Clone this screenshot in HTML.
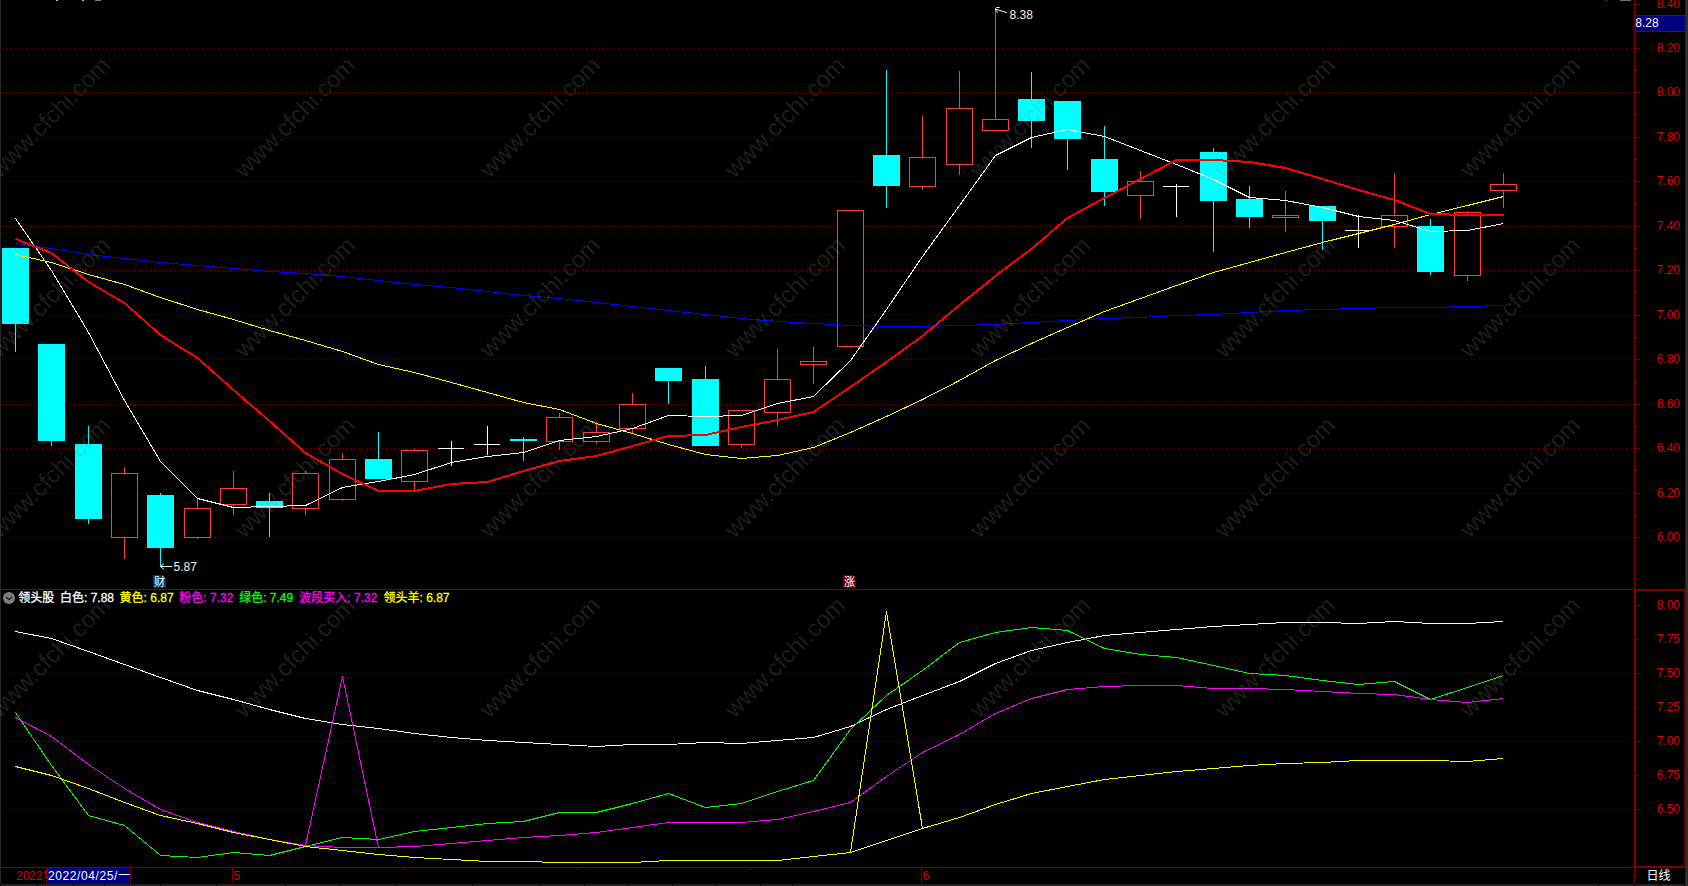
<!DOCTYPE html>
<html lang="zh-CN"><head><meta charset="utf-8"><title>K线图 - 领头股</title>
<style>
html,body{margin:0;padding:0;background:#000;overflow:hidden}
body{width:1688px;height:886px;position:relative;font-family:"Liberation Sans","Noto Sans CJK SC",sans-serif}
svg{position:absolute;left:0;top:0;display:block}
text{font-family:"Liberation Sans","Noto Sans CJK SC",sans-serif;font-size:12px}
.ax{fill:#dc0000}
.wm{fill:#8c8c8c;fill-opacity:.215;font-size:24px}
</style></head><body>
<svg width="1688" height="886" viewBox="0 0 1688 886">
<rect width="1688" height="886" fill="#000"/>
<g shape-rendering="crispEdges">
<rect x="0" y="0" width="1" height="884" fill="#272727"/>
<rect x="1685" y="0" width="1" height="886" fill="#262626"/>
<rect x="1686" y="0" width="2" height="886" fill="#2e2e2e"/>
<rect x="95" y="0" width="6" height="1" fill="#808080"/>
<rect x="56" y="0" width="2" height="1" fill="#c0c0c0"/>
<rect x="82" y="0" width="2" height="1" fill="#c0c0c0"/>
<rect x="1620" y="0" width="11" height="1" fill="#707070"/>
<rect x="1606" y="0" width="1" height="1" fill="#707070"/>
<line x1="2" y1="48.5" x2="1631" y2="48.5" stroke="#800000" stroke-width="1" stroke-dasharray="1 3"/>
<line x1="2" y1="92.5" x2="1631" y2="92.5" stroke="#800000" stroke-width="1" stroke-dasharray="1 3"/>
<line x1="2" y1="137.5" x2="1631" y2="137.5" stroke="#800000" stroke-width="1" stroke-dasharray="1 3"/>
<line x1="2" y1="181.5" x2="1631" y2="181.5" stroke="#800000" stroke-width="1" stroke-dasharray="1 3"/>
<line x1="2" y1="226.5" x2="1631" y2="226.5" stroke="#800000" stroke-width="1" stroke-dasharray="1 3"/>
<line x1="2" y1="270.5" x2="1631" y2="270.5" stroke="#800000" stroke-width="1" stroke-dasharray="1 3"/>
<line x1="2" y1="315.5" x2="1631" y2="315.5" stroke="#800000" stroke-width="1" stroke-dasharray="1 3"/>
<line x1="2" y1="359.5" x2="1631" y2="359.5" stroke="#800000" stroke-width="1" stroke-dasharray="1 3"/>
<line x1="2" y1="404.5" x2="1631" y2="404.5" stroke="#800000" stroke-width="1" stroke-dasharray="1 3"/>
<line x1="2" y1="448.5" x2="1631" y2="448.5" stroke="#800000" stroke-width="1" stroke-dasharray="1 3"/>
<line x1="2" y1="493.5" x2="1631" y2="493.5" stroke="#800000" stroke-width="1" stroke-dasharray="1 3"/>
<line x1="2" y1="537.5" x2="1631" y2="537.5" stroke="#800000" stroke-width="1" stroke-dasharray="1 3"/>
<line x1="2" y1="673.5" x2="1631" y2="673.5" stroke="#800000" stroke-width="1" stroke-dasharray="1 3"/>
<line x1="2" y1="741.5" x2="1631" y2="741.5" stroke="#800000" stroke-width="1" stroke-dasharray="1 3"/>
<line x1="2" y1="809.5" x2="1631" y2="809.5" stroke="#800000" stroke-width="1" stroke-dasharray="1 3"/>
<rect x="1634" y="0" width="1" height="589" fill="#800000"/>
<rect x="1635" y="4" width="5" height="1" fill="#800000"/>
<rect x="1635" y="48" width="5" height="1" fill="#800000"/>
<rect x="1635" y="92" width="5" height="1" fill="#800000"/>
<rect x="1635" y="137" width="5" height="1" fill="#800000"/>
<rect x="1635" y="181" width="5" height="1" fill="#800000"/>
<rect x="1635" y="226" width="5" height="1" fill="#800000"/>
<rect x="1635" y="270" width="5" height="1" fill="#800000"/>
<rect x="1635" y="315" width="5" height="1" fill="#800000"/>
<rect x="1635" y="359" width="5" height="1" fill="#800000"/>
<rect x="1635" y="404" width="5" height="1" fill="#800000"/>
<rect x="1635" y="448" width="5" height="1" fill="#800000"/>
<rect x="1635" y="493" width="5" height="1" fill="#800000"/>
<rect x="1635" y="537" width="5" height="1" fill="#800000"/>
<rect x="1635" y="26" width="3" height="1" fill="#800000"/>
<rect x="1635" y="70" width="3" height="1" fill="#800000"/>
<rect x="1635" y="114" width="3" height="1" fill="#800000"/>
<rect x="1635" y="159" width="3" height="1" fill="#800000"/>
<rect x="1635" y="204" width="3" height="1" fill="#800000"/>
<rect x="1635" y="248" width="3" height="1" fill="#800000"/>
<rect x="1635" y="292" width="3" height="1" fill="#800000"/>
<rect x="1635" y="337" width="3" height="1" fill="#800000"/>
<rect x="1635" y="382" width="3" height="1" fill="#800000"/>
<rect x="1635" y="426" width="3" height="1" fill="#800000"/>
<rect x="1635" y="470" width="3" height="1" fill="#800000"/>
<rect x="1635" y="515" width="3" height="1" fill="#800000"/>
<rect x="1" y="589" width="1684" height="1" fill="#800000"/>
<rect x="1634" y="589" width="2" height="279" fill="#800000"/>
<rect x="1634" y="589" width="51" height="2" fill="#800000"/>
<rect x="1634" y="866" width="51" height="2" fill="#800000"/>
<rect x="1684" y="589" width="1" height="279" fill="#680000"/>
<rect x="1636" y="605" width="5" height="1" fill="#800000"/>
<rect x="1636" y="673" width="5" height="1" fill="#800000"/>
<rect x="1636" y="741" width="5" height="1" fill="#800000"/>
<rect x="1636" y="809" width="5" height="1" fill="#800000"/>
<rect x="1636" y="639" width="3" height="1" fill="#800000"/>
<rect x="1636" y="707" width="3" height="1" fill="#800000"/>
<rect x="1636" y="775" width="3" height="1" fill="#800000"/>
<rect x="1" y="867" width="1684" height="1" fill="#800000"/>
<rect x="1634" y="867" width="1" height="17" fill="#800000"/>
<rect x="232" y="867" width="1" height="16" fill="#800000"/>
<rect x="921" y="867" width="1" height="16" fill="#800000"/>
<rect x="404" y="867" width="1" height="3" fill="#800000"/>
<rect x="577" y="867" width="1" height="3" fill="#800000"/>
<rect x="749" y="867" width="1" height="3" fill="#800000"/>
<rect x="1" y="884" width="1684" height="2" fill="#212121"/>
<rect x="37" y="884" width="1" height="2" fill="#000"/>
<rect x="73" y="884" width="1" height="2" fill="#000"/>
<rect x="104" y="884" width="1" height="2" fill="#000"/>
<rect x="160" y="884" width="1" height="2" fill="#000"/>
<rect x="216" y="884" width="1" height="2" fill="#000"/>
<rect x="285" y="884" width="1" height="2" fill="#000"/>
<rect x="340" y="884" width="1" height="2" fill="#000"/>
<rect x="396" y="884" width="1" height="2" fill="#000"/>
<rect x="472" y="884" width="1" height="2" fill="#000"/>
<rect x="540" y="884" width="1" height="2" fill="#000"/>
<rect x="584" y="884" width="1" height="2" fill="#000"/>
<rect x="628" y="884" width="1" height="2" fill="#000"/>
<rect x="672" y="884" width="1" height="2" fill="#000"/>
<rect x="716" y="884" width="1" height="2" fill="#000"/>
<rect x="760" y="884" width="1" height="2" fill="#000"/>
<rect x="792" y="884" width="1" height="2" fill="#000"/>
<rect x="1598" y="884" width="1" height="2" fill="#000"/>
<rect x="1634" y="884" width="1" height="2" fill="#000"/>
<rect x="1659" y="884" width="1" height="2" fill="#000"/>
<rect x="1684" y="884" width="1" height="2" fill="#000"/>
<rect x="1635" y="15" width="50" height="17" fill="#800000"/>
<rect x="1635" y="16" width="50" height="15" fill="#000080"/>
<rect x="46" y="868" width="85" height="16" fill="#800000"/>
<rect x="47" y="868" width="83" height="16" fill="#000080"/>
<rect x="15" y="248" width="1" height="104" fill="#00ffff"/>
<rect x="2" y="248" width="27" height="76" fill="#00ffff"/>
<rect x="51" y="344" width="1" height="102" fill="#00ffff"/>
<rect x="38" y="344" width="27" height="97" fill="#00ffff"/>
<rect x="88" y="426" width="1" height="98" fill="#00ffff"/>
<rect x="75" y="444" width="27" height="75" fill="#00ffff"/>
<rect x="124" y="467" width="1" height="6" fill="#ff3c3c"/>
<rect x="124" y="538" width="1" height="21" fill="#ff3c3c"/>
<rect x="111.5" y="473.5" width="26" height="64" fill="#000" stroke="#ff3c3c" stroke-width="1"/>
<rect x="160" y="493" width="1" height="73" fill="#00ffff"/>
<rect x="147" y="495" width="27" height="53" fill="#00ffff"/>
<rect x="197" y="498" width="1" height="10" fill="#ff3c3c"/>
<rect x="197" y="538" width="1" height="1" fill="#ff3c3c"/>
<rect x="184.5" y="508.5" width="26" height="29" fill="#000" stroke="#ff3c3c" stroke-width="1"/>
<rect x="233" y="471" width="1" height="17" fill="#ff3c3c"/>
<rect x="233" y="505" width="1" height="10" fill="#ff3c3c"/>
<rect x="220.5" y="488.5" width="26" height="16" fill="#000" stroke="#ff3c3c" stroke-width="1"/>
<rect x="269" y="493" width="1" height="44" fill="#00ffff"/>
<rect x="256" y="501" width="27" height="7" fill="#00ffff"/>
<rect x="305" y="471" width="1" height="2" fill="#ff3c3c"/>
<rect x="305" y="509" width="1" height="6" fill="#ff3c3c"/>
<rect x="292.5" y="473.5" width="26" height="35" fill="#000" stroke="#ff3c3c" stroke-width="1"/>
<rect x="342" y="453" width="1" height="6" fill="#ff3c3c"/>
<rect x="342" y="500" width="1" height="1" fill="#ff3c3c"/>
<rect x="329.5" y="459.5" width="26" height="40" fill="#000" stroke="#ff3c3c" stroke-width="1"/>
<rect x="378" y="432" width="1" height="47" fill="#00ffff"/>
<rect x="365" y="459" width="27" height="20" fill="#00ffff"/>
<rect x="414" y="449" width="1" height="1" fill="#ff3c3c"/>
<rect x="414" y="482" width="1" height="9" fill="#ff3c3c"/>
<rect x="401.5" y="450.5" width="26" height="31" fill="#000" stroke="#ff3c3c" stroke-width="1"/>
<rect x="451" y="441" width="1" height="25" fill="#fff"/>
<rect x="438" y="448" width="26" height="1" fill="#fff"/>
<rect x="487" y="426" width="1" height="29" fill="#fff"/>
<rect x="474" y="444" width="26" height="1" fill="#fff"/>
<rect x="523" y="437" width="1" height="24" fill="#00ffff"/>
<rect x="510" y="439" width="27" height="2" fill="#00ffff"/>
<rect x="559" y="413" width="1" height="4" fill="#ff3c3c"/>
<rect x="559" y="442" width="1" height="8" fill="#ff3c3c"/>
<rect x="546.5" y="417.5" width="26" height="24" fill="#000" stroke="#ff3c3c" stroke-width="1"/>
<rect x="596" y="422" width="1" height="10" fill="#ff3c3c"/>
<rect x="596" y="442" width="1" height="2" fill="#ff3c3c"/>
<rect x="583.5" y="432.5" width="26" height="9" fill="#000" stroke="#ff3c3c" stroke-width="1"/>
<rect x="632" y="393" width="1" height="11" fill="#ff3c3c"/>
<rect x="632" y="429" width="1" height="4" fill="#ff3c3c"/>
<rect x="619.5" y="404.5" width="26" height="24" fill="#000" stroke="#ff3c3c" stroke-width="1"/>
<rect x="668" y="368" width="1" height="36" fill="#00ffff"/>
<rect x="655" y="368" width="27" height="13" fill="#00ffff"/>
<rect x="705" y="366" width="1" height="80" fill="#00ffff"/>
<rect x="692" y="379" width="27" height="67" fill="#00ffff"/>
<rect x="741" y="445" width="1" height="3" fill="#ff3c3c"/>
<rect x="728.5" y="410.5" width="26" height="34" fill="#000" stroke="#ff3c3c" stroke-width="1"/>
<rect x="777" y="349" width="1" height="30" fill="#ff3c3c"/>
<rect x="777" y="413" width="1" height="13" fill="#ff3c3c"/>
<rect x="764.5" y="379.5" width="26" height="33" fill="#000" stroke="#ff3c3c" stroke-width="1"/>
<rect x="813" y="347" width="1" height="14" fill="#ff3c3c"/>
<rect x="813" y="365" width="1" height="19" fill="#ff3c3c"/>
<rect x="800.5" y="361.5" width="26" height="3" fill="#000" stroke="#ff3c3c" stroke-width="1"/>
<rect x="850" y="347" width="1" height="1" fill="#ff3c3c"/>
<rect x="837.5" y="210.5" width="26" height="136" fill="#000" stroke="#ff3c3c" stroke-width="1"/>
<rect x="886" y="70" width="1" height="138" fill="#00ffff"/>
<rect x="873" y="155" width="27" height="31" fill="#00ffff"/>
<rect x="922" y="116" width="1" height="41" fill="#ff3c3c"/>
<rect x="922" y="187" width="1" height="3" fill="#ff3c3c"/>
<rect x="909.5" y="157.5" width="26" height="29" fill="#000" stroke="#ff3c3c" stroke-width="1"/>
<rect x="959" y="71" width="1" height="37" fill="#ff3c3c"/>
<rect x="959" y="165" width="1" height="10" fill="#ff3c3c"/>
<rect x="946.5" y="108.5" width="26" height="56" fill="#000" stroke="#ff3c3c" stroke-width="1"/>
<rect x="995" y="11" width="1" height="108" fill="#ff3c3c"/>
<rect x="982.5" y="119.5" width="26" height="11" fill="#000" stroke="#ff3c3c" stroke-width="1"/>
<rect x="1031" y="72" width="1" height="76" fill="#00ffff"/>
<rect x="1018" y="99" width="27" height="22" fill="#00ffff"/>
<rect x="1067" y="101" width="1" height="69" fill="#00ffff"/>
<rect x="1054" y="101" width="27" height="38" fill="#00ffff"/>
<rect x="1104" y="126" width="1" height="80" fill="#00ffff"/>
<rect x="1091" y="159" width="27" height="33" fill="#00ffff"/>
<rect x="1140" y="171" width="1" height="10" fill="#ff3c3c"/>
<rect x="1140" y="196" width="1" height="23" fill="#ff3c3c"/>
<rect x="1127.5" y="181.5" width="26" height="14" fill="#000" stroke="#ff3c3c" stroke-width="1"/>
<rect x="1176" y="184" width="1" height="33" fill="#fff"/>
<rect x="1163" y="186" width="26" height="1" fill="#fff"/>
<rect x="1213" y="148" width="1" height="104" fill="#00ffff"/>
<rect x="1200" y="152" width="27" height="49" fill="#00ffff"/>
<rect x="1249" y="186" width="1" height="42" fill="#00ffff"/>
<rect x="1236" y="199" width="27" height="18" fill="#00ffff"/>
<rect x="1285" y="191" width="1" height="24" fill="#ff3c3c"/>
<rect x="1285" y="218" width="1" height="14" fill="#ff3c3c"/>
<rect x="1272.5" y="215.5" width="26" height="2" fill="#000" stroke="#ff3c3c" stroke-width="1"/>
<rect x="1322" y="206" width="1" height="44" fill="#00ffff"/>
<rect x="1309" y="206" width="27" height="15" fill="#00ffff"/>
<rect x="1358" y="215" width="1" height="33" fill="#fff"/>
<rect x="1345" y="230" width="26" height="1" fill="#fff"/>
<rect x="1394" y="173" width="1" height="42" fill="#ff3c3c"/>
<rect x="1394" y="227" width="1" height="21" fill="#ff3c3c"/>
<rect x="1381.5" y="215.5" width="26" height="11" fill="#000" stroke="#ff3c3c" stroke-width="1"/>
<rect x="1430" y="219" width="1" height="56" fill="#00ffff"/>
<rect x="1417" y="226" width="27" height="46" fill="#00ffff"/>
<rect x="1467" y="211" width="1" height="1" fill="#ff3c3c"/>
<rect x="1467" y="276" width="1" height="5" fill="#ff3c3c"/>
<rect x="1454.5" y="212.5" width="26" height="63" fill="#000" stroke="#ff3c3c" stroke-width="1"/>
<rect x="1503" y="173" width="1" height="11" fill="#ff3c3c"/>
<rect x="1503" y="191" width="1" height="17" fill="#ff3c3c"/>
<rect x="1490.5" y="184.5" width="26" height="6" fill="#000" stroke="#ff3c3c" stroke-width="1"/>
</g>
<g shape-rendering="crispEdges" stroke-linejoin="round">
<polyline points="15.5,243.5 51.5,248.5 88.5,254.5 124.5,258.5 160.5,262.5 197.5,265.5 233.5,268.5 269.5,271.5 305.5,273.5 342.5,276.5 378.5,280.5 414.5,284.5 451.5,287.5 487.5,291.5 523.5,295.5 559.5,298.5 596.5,302.5 632.5,306.5 668.5,310.5 705.5,314.5 741.5,318.5 777.5,321.5 813.5,323.5 850.5,325.5 886.5,326.5 922.5,326.5 959.5,325.5 995.5,324.5 1031.5,322.5 1067.5,320.5 1104.5,318.5 1140.5,317.5 1176.5,315.5 1213.5,314.5 1249.5,312.5 1285.5,310.5 1322.5,309.5 1358.5,308.5 1394.5,307.5 1430.5,307.5 1467.5,306.5 1503.5,305.5" fill="none" stroke="#0000ff" stroke-width="1" />
<polyline points="15.5,254.5 51.5,262.5 88.5,274.5 124.5,284.5 160.5,297.5 197.5,309.5 233.5,319.5 269.5,330.5 305.5,340.5 342.5,351.5 378.5,364.5 414.5,372.5 451.5,382.5 487.5,392.5 523.5,402.5 559.5,409.5 596.5,423.5 632.5,433.5 668.5,444.5 705.5,454.5 741.5,458.5 777.5,455.5 813.5,447.5 850.5,432.5 886.5,416.5 922.5,399.5 959.5,380.5 995.5,360.5 1031.5,343.5 1067.5,327.5 1104.5,311.5 1140.5,298.5 1176.5,285.5 1213.5,272.5 1249.5,262.5 1285.5,252.5 1322.5,242.5 1358.5,233.5 1394.5,224.5 1430.5,214.5 1467.5,205.5 1503.5,196.5" fill="none" stroke="#ffff00" stroke-width="1" />
<polyline points="15.5,218.5 51.5,270.5 88.5,332.5 124.5,400.5 160.5,461.5 197.5,498.5 233.5,507.5 269.5,506.5 305.5,505.5 342.5,487.5 378.5,481.5 414.5,474.5 451.5,462.5 487.5,456.5 523.5,452.5 559.5,440.5 596.5,436.5 632.5,428.5 668.5,415.5 705.5,416.5 741.5,415.5 777.5,403.5 813.5,396.5 850.5,360.5 886.5,309.5 922.5,256.5 959.5,205.5 995.5,155.5 1031.5,137.5 1067.5,129.5 1104.5,136.5 1140.5,150.5 1176.5,164.5 1213.5,179.5 1249.5,197.5 1285.5,200.5 1322.5,207.5 1358.5,216.5 1394.5,220.5 1430.5,231.5 1467.5,230.5 1503.5,223.5" fill="none" stroke="#ffffff" stroke-width="1" />
<polyline points="15.5,239.0 51.5,253.0 88.5,282.0 124.5,303.0 160.5,335.0 197.5,358.0 233.5,390.0 269.5,421.0 305.5,453.0 342.5,474.0 378.5,491.0 414.5,491.0 451.5,484.0 487.5,482.0 523.5,471.0 559.5,461.0 596.5,456.0 632.5,446.0 668.5,436.0 705.5,435.0 741.5,427.0 777.5,420.0 813.5,412.0 850.5,387.0 886.5,362.0 922.5,336.0 959.5,305.0 995.5,276.0 1031.5,249.0 1067.5,218.0 1104.5,198.0 1140.5,179.0 1176.5,160.0 1213.5,160.0 1249.5,162.0 1285.5,168.0 1322.5,179.0 1358.5,190.0 1394.5,200.0 1430.5,214.0 1467.5,215.0 1503.5,215.0" fill="none" stroke="#ff0000" stroke-width="2" />
<polyline points="15.5,631.5 51.5,638.5 88.5,651.5 124.5,664.5 160.5,677.5 197.5,690.5 233.5,699.5 269.5,709.5 305.5,718.5 342.5,724.5 378.5,728.5 414.5,733.5 451.5,737.5 487.5,740.5 523.5,742.5 559.5,744.5 596.5,746.5 632.5,744.5 668.5,744.5 705.5,742.5 741.5,743.5 777.5,740.5 813.5,737.5 850.5,726.5 886.5,709.5 922.5,695.5 959.5,681.5 995.5,663.5 1031.5,650.5 1067.5,642.5 1104.5,635.5 1140.5,632.5 1176.5,629.5 1213.5,626.5 1249.5,624.5 1285.5,622.5 1322.5,622.5 1358.5,623.5 1394.5,621.5 1430.5,623.5 1467.5,623.5 1503.5,621.5" fill="none" stroke="#ffffff" stroke-width="1" />
<polyline points="15.5,712.5 51.5,765.5 88.5,815.5 124.5,825.5 160.5,855.5 197.5,857.5 233.5,852.5 269.5,855.5 305.5,846.5 342.5,837.5 378.5,839.5 414.5,831.5 451.5,827.5 487.5,823.5 523.5,821.5 559.5,812.5 596.5,812.5 632.5,803.5 668.5,793.5 705.5,807.5 741.5,803.5 777.5,791.5 813.5,780.5 850.5,729.5 886.5,695.5 922.5,670.5 959.5,642.5 995.5,632.5 1031.5,627.5 1067.5,630.5 1104.5,648.5 1140.5,654.5 1176.5,657.5 1213.5,665.5 1249.5,673.5 1285.5,675.5 1322.5,680.5 1358.5,684.5 1394.5,681.5 1430.5,699.5 1467.5,687.5 1503.5,675.5" fill="none" stroke="#00ff00" stroke-width="1" />
<polyline points="15.5,717.5 51.5,736.5 88.5,764.5 124.5,788.5 160.5,809.5 197.5,822.5 233.5,831.5 269.5,839.5 305.5,845.5 342.5,847.5 378.5,847.5 414.5,846.5 451.5,843.5 487.5,840.5 523.5,837.5 559.5,835.5 596.5,832.5 632.5,827.5 668.5,822.5 705.5,822.5 741.5,822.5 777.5,819.5 813.5,811.5 850.5,802.5 886.5,776.5 922.5,752.5 959.5,734.5 995.5,713.5 1031.5,698.5 1067.5,689.5 1104.5,686.5 1140.5,685.5 1176.5,685.5 1213.5,688.5 1249.5,688.5 1285.5,689.5 1322.5,691.5 1358.5,693.5 1394.5,694.5 1430.5,699.5 1467.5,702.5 1503.5,698.5" fill="none" stroke="#ff00ff" stroke-width="1" />
<polyline points="15.5,766.5 51.5,775.5 88.5,788.5 124.5,802.5 160.5,815.5 197.5,823.5 233.5,832.5 269.5,839.5 305.5,846.5 342.5,850.5 378.5,854.5 414.5,857.5 451.5,859.5 487.5,861.5 523.5,861.5 559.5,862.5 596.5,862.5 632.5,862.5 668.5,860.5 705.5,860.5 741.5,860.5 777.5,860.5 813.5,856.5 850.5,852.5 886.5,840.5 922.5,828.5 959.5,817.5 995.5,804.5 1031.5,793.5 1067.5,786.5 1104.5,779.5 1140.5,775.5 1176.5,771.5 1213.5,768.5 1249.5,765.5 1285.5,763.5 1322.5,762.5 1358.5,760.5 1394.5,760.5 1430.5,760.5 1467.5,761.5 1503.5,758.5" fill="none" stroke="#ffff00" stroke-width="1" />
<polyline points="305.5,845.5 342.5,676.5 378.5,847.5" fill="none" stroke="#ff00ff" stroke-width="1"/>
<polyline points="850.5,852.5 886.5,611.5 922.5,828.5" fill="none" stroke="#ffff00" stroke-width="1"/>
</g>
<g stroke="#fff" stroke-width="1" fill="none">
<path d="M160.5 566.5H172M164 563.5L160.5 566.5L164 569.5"/>
<path d="M996 9.3L1007 12.6M999.5 7.5H996.5L995.5 8.5V10L998 12.8"/>
</g>
<text x="173.5" y="571" fill="#f4f4f4">5.87</text>
<text x="1009.5" y="19" fill="#f4f4f4">8.38</text>
<path d="M153 575H163L166 578V588H153Z" fill="#003a74"/>
<text x="154" y="585.6" fill="#fff" style="font-size:11px">财</text>
<path d="M843 575H853L856 578V588H843Z" fill="#7c0000"/>
<text x="844" y="585.6" fill="#fff" style="font-size:11px">涨</text>
<text class="ax" x="1680" y="8.3" text-anchor="end">8.40</text>
<text class="ax" x="1680" y="52.3" text-anchor="end">8.20</text>
<text class="ax" x="1680" y="96.3" text-anchor="end">8.00</text>
<text class="ax" x="1680" y="141.3" text-anchor="end">7.80</text>
<text class="ax" x="1680" y="185.3" text-anchor="end">7.60</text>
<text class="ax" x="1680" y="230.3" text-anchor="end">7.40</text>
<text class="ax" x="1680" y="274.3" text-anchor="end">7.20</text>
<text class="ax" x="1680" y="319.3" text-anchor="end">7.00</text>
<text class="ax" x="1680" y="363.3" text-anchor="end">6.80</text>
<text class="ax" x="1680" y="408.3" text-anchor="end">6.60</text>
<text class="ax" x="1680" y="452.3" text-anchor="end">6.40</text>
<text class="ax" x="1680" y="497.3" text-anchor="end">6.20</text>
<text class="ax" x="1680" y="541.3" text-anchor="end">6.00</text>
<text class="ax" x="1680" y="609.3" text-anchor="end">8.00</text>
<text class="ax" x="1680" y="643.3" text-anchor="end">7.75</text>
<text class="ax" x="1680" y="677.3" text-anchor="end">7.50</text>
<text class="ax" x="1680" y="711.3" text-anchor="end">7.25</text>
<text class="ax" x="1680" y="745.3" text-anchor="end">7.00</text>
<text class="ax" x="1680" y="779.3" text-anchor="end">6.75</text>
<text class="ax" x="1680" y="813.3" text-anchor="end">6.50</text>
<text x="1635.3" y="27.3" fill="#fff">8.28</text>
<text class="ax" x="16" y="880">2022年</text>
<rect x="47" y="868" width="83" height="16" fill="#000080"/>
<text x="48" y="880" fill="#fff" textLength="82" lengthAdjust="spacing">2022/04/25/一</text>
<text class="ax" x="233.6" y="880">5</text>
<text class="ax" x="922.6" y="880">6</text>
<text x="1646.5" y="879.7" fill="#fff">日线</text>
<circle cx="9" cy="598" r="6" fill="#7e7e7e"/>
<path d="M6 596.8L9 599.7L12 596.8" fill="none" stroke="#141414" stroke-width="1.15"/>
<text x="18.2" y="602.4" fill="#ffffff" stroke="#ffffff" stroke-width=".3">领头股</text>
<text x="60.0" y="602.4" fill="#ffffff" stroke="#ffffff" stroke-width=".3">白色: 7.88</text>
<text x="119.6" y="602.4" fill="#ffff00" stroke="#ffff00" stroke-width=".3">黄色: 6.87</text>
<text x="179.3" y="602.4" fill="#ff00ff" stroke="#ff00ff" stroke-width=".3">粉色: 7.32</text>
<text x="239.2" y="602.4" fill="#00ff00" stroke="#00ff00" stroke-width=".3">绿色: 7.49</text>
<text x="299.3" y="602.4" fill="#ff00ff" stroke="#ff00ff" stroke-width=".3">波段买入: 7.32</text>
<text x="383.5" y="602.4" fill="#ffff00" stroke="#ffff00" stroke-width=".3">领头羊: 6.87</text>
<g class="wm">
<text class="wm" transform="translate(-0.5,179) rotate(-45)">www.cfchi.com</text>
<text class="wm" transform="translate(244.5,179) rotate(-45)">www.cfchi.com</text>
<text class="wm" transform="translate(489.5,179) rotate(-45)">www.cfchi.com</text>
<text class="wm" transform="translate(734.5,179) rotate(-45)">www.cfchi.com</text>
<text class="wm" transform="translate(979.5,179) rotate(-45)">www.cfchi.com</text>
<text class="wm" transform="translate(1224.5,179) rotate(-45)">www.cfchi.com</text>
<text class="wm" transform="translate(1469.5,179) rotate(-45)">www.cfchi.com</text>
<text class="wm" transform="translate(-0.5,359) rotate(-45)">www.cfchi.com</text>
<text class="wm" transform="translate(244.5,359) rotate(-45)">www.cfchi.com</text>
<text class="wm" transform="translate(489.5,359) rotate(-45)">www.cfchi.com</text>
<text class="wm" transform="translate(734.5,359) rotate(-45)">www.cfchi.com</text>
<text class="wm" transform="translate(979.5,359) rotate(-45)">www.cfchi.com</text>
<text class="wm" transform="translate(1224.5,359) rotate(-45)">www.cfchi.com</text>
<text class="wm" transform="translate(1469.5,359) rotate(-45)">www.cfchi.com</text>
<text class="wm" transform="translate(-0.5,539) rotate(-45)">www.cfchi.com</text>
<text class="wm" transform="translate(244.5,539) rotate(-45)">www.cfchi.com</text>
<text class="wm" transform="translate(489.5,539) rotate(-45)">www.cfchi.com</text>
<text class="wm" transform="translate(734.5,539) rotate(-45)">www.cfchi.com</text>
<text class="wm" transform="translate(979.5,539) rotate(-45)">www.cfchi.com</text>
<text class="wm" transform="translate(1224.5,539) rotate(-45)">www.cfchi.com</text>
<text class="wm" transform="translate(1469.5,539) rotate(-45)">www.cfchi.com</text>
<text class="wm" transform="translate(-0.5,719) rotate(-45)">www.cfchi.com</text>
<text class="wm" transform="translate(244.5,719) rotate(-45)">www.cfchi.com</text>
<text class="wm" transform="translate(489.5,719) rotate(-45)">www.cfchi.com</text>
<text class="wm" transform="translate(734.5,719) rotate(-45)">www.cfchi.com</text>
<text class="wm" transform="translate(979.5,719) rotate(-45)">www.cfchi.com</text>
<text class="wm" transform="translate(1224.5,719) rotate(-45)">www.cfchi.com</text>
<text class="wm" transform="translate(1469.5,719) rotate(-45)">www.cfchi.com</text>
</g>
</svg>
</body></html>
